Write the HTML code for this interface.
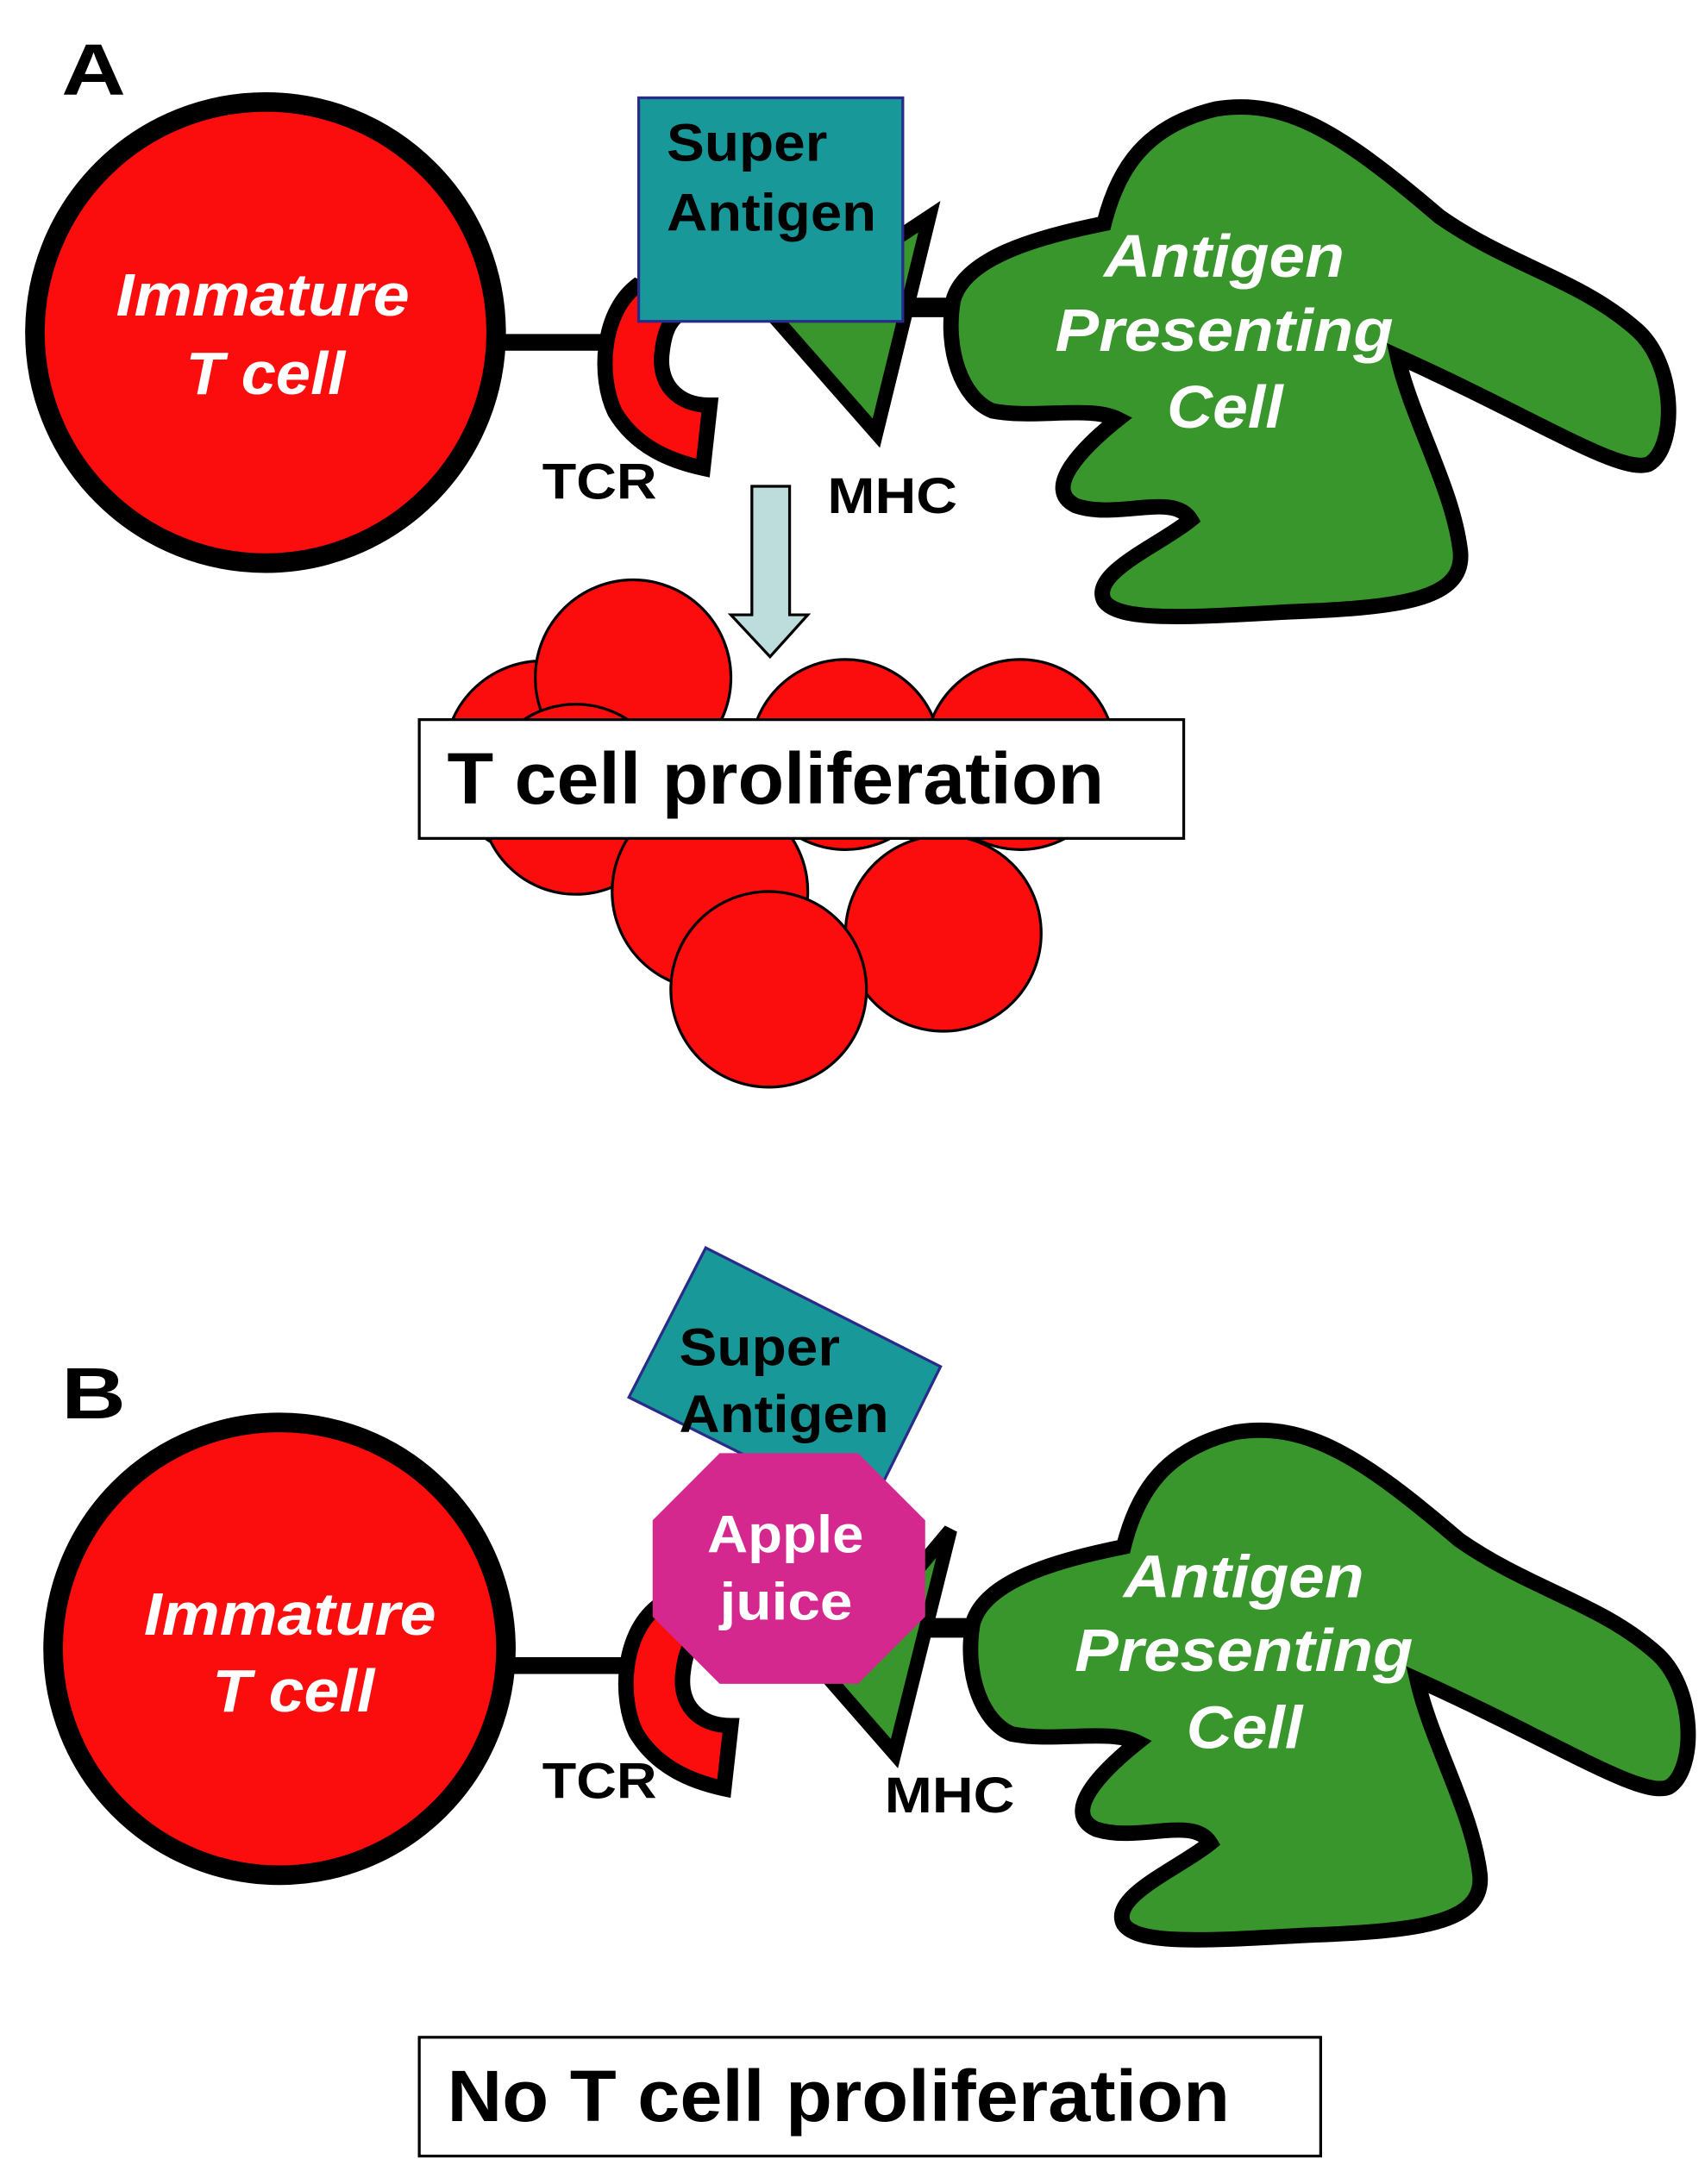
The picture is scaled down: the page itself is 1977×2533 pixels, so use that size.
<!DOCTYPE html>
<html><head><meta charset="utf-8"><style>
html,body{margin:0;padding:0;background:#fff;width:1977px;height:2533px;overflow:hidden}
svg{display:block}
text{font-family:"Liberation Sans",sans-serif;font-weight:bold}
.w{fill:#fff;font-style:italic;font-size:43px}
.lab{font-size:36px;fill:#000}
</style></head><body>
<svg width="1977" height="2533" viewBox="0 0 1220 1563" preserveAspectRatio="none">
<defs>
<path id="apc" d="M682,215 C690,185 740,170 790,160 C800,120 820,90 870,78 C920,70 960,95 1030,155 C1080,190 1130,200 1170,235 C1200,260 1200,320 1180,332 C1160,340 1100,300 1000,255 C1010,300 1040,350 1045,395 C1048,430 1000,435 920,438 C850,442 800,445 790,430 C780,410 830,390 852,372 C840,352 800,372 770,362 C745,350 775,320 800,300 C780,290 740,300 710,294 C688,285 676,250 682,215 Z"/>
<path id="tcr" d="M455,205 C430,225 428,270 440,295 C455,320 480,330 503,335 L508,290 C485,290 470,275 474,250 C476,235 480,228 490,222 Z"/>
</defs>
<!-- A -->
<text x="44" y="68" font-size="52" textLength="46" lengthAdjust="spacingAndGlyphs">A</text>
<circle cx="190" cy="238" r="165" fill="#fb0d0d" stroke="#000" stroke-width="14"/>
<text class="w" x="83" y="226" textLength="210" lengthAdjust="spacingAndGlyphs">Immature</text>
<text class="w" x="133" y="282" textLength="114" lengthAdjust="spacingAndGlyphs">T cell</text>
<line x1="360" y1="245" x2="445" y2="245" stroke="#000" stroke-width="12"/>
<use href="#tcr" fill="#fb0d0d" stroke="#000" stroke-width="11"/>
<polygon points="555,228 665,155 627,310" fill="#38962c" stroke="#000" stroke-width="10"/>
<line x1="645" y1="220" x2="705" y2="220" stroke="#000" stroke-width="14"/>
<use href="#apc" fill="#38962c" stroke="#000" stroke-width="11"/>
<rect x="457" y="70" width="189" height="160" fill="#189898" stroke="#2a2a8a" stroke-width="2"/>
<text x="477" y="115" font-size="38" textLength="115" lengthAdjust="spacingAndGlyphs">Super</text>
<text x="477" y="165" font-size="38" textLength="150" lengthAdjust="spacingAndGlyphs">Antigen</text>
<text class="w" x="790" y="198" textLength="172" lengthAdjust="spacingAndGlyphs">Antigen</text>
<text class="w" x="755" y="251" textLength="242" lengthAdjust="spacingAndGlyphs">Presenting</text>
<text class="w" x="835" y="306" textLength="83" lengthAdjust="spacingAndGlyphs">Cell</text>
<text class="lab" x="388" y="357" textLength="82" lengthAdjust="spacingAndGlyphs">TCR</text>
<text class="lab" x="592" y="367" textLength="93" lengthAdjust="spacingAndGlyphs">MHC</text>
<polygon points="538,348 565,348 565,440 578,440 551,470 523,440 538,440" fill="#bddcdc" stroke="#000" stroke-width="2"/>
<g fill="#fb0d0d" stroke="#000" stroke-width="2">
<circle cx="388" cy="543" r="70"/>
<circle cx="453" cy="485" r="70"/>
<circle cx="605" cy="540" r="68"/>
<circle cx="730" cy="540" r="68"/>
<circle cx="412" cy="572" r="68"/>
<circle cx="508" cy="638" r="70"/>
<circle cx="675" cy="668" r="70"/>
<circle cx="550" cy="708" r="70"/>
</g>
<rect x="300" y="515" width="547" height="85" fill="#fff" stroke="#000" stroke-width="2"/>
<text x="320" y="575" font-size="52" textLength="470" lengthAdjust="spacingAndGlyphs">T cell proliferation</text>
<!-- B -->
<text x="44" y="1015" font-size="52" textLength="46" lengthAdjust="spacingAndGlyphs">B</text>
<circle cx="200" cy="1180" r="162" fill="#fb0d0d" stroke="#000" stroke-width="14"/>
<text class="w" x="103" y="1170" textLength="209" lengthAdjust="spacingAndGlyphs">Immature</text>
<text class="w" x="152" y="1225" textLength="116" lengthAdjust="spacingAndGlyphs">T cell</text>
<line x1="362" y1="1192" x2="460" y2="1192" stroke="#000" stroke-width="12"/>
<use href="#tcr" transform="translate(15,945)" fill="#fb0d0d" stroke="#000" stroke-width="11"/>
<polygon points="592,1200 680,1095 640,1255" fill="#38962c" stroke="#000" stroke-width="10"/>
<line x1="660" y1="1165" x2="717" y2="1165" stroke="#000" stroke-width="14"/>
<use href="#apc" transform="translate(14,947)" fill="#38962c" stroke="#000" stroke-width="11"/>
<polygon points="505,893 673,978 620,1085 450,1000" fill="#189898" stroke="#2a2a8a" stroke-width="2"/>
<text x="486" y="977" font-size="38" textLength="115" lengthAdjust="spacingAndGlyphs">Super</text>
<text x="486" y="1025" font-size="38" textLength="150" lengthAdjust="spacingAndGlyphs">Antigen</text>
<polygon points="515,1040 614,1040 662,1088 662,1157 614,1205 515,1205 467,1157 467,1088" fill="#d4288e"/>
<text x="506" y="1111" font-size="38" fill="#fff" textLength="112" lengthAdjust="spacingAndGlyphs">Apple</text>
<text x="515" y="1159" font-size="38" fill="#fff" textLength="95" lengthAdjust="spacingAndGlyphs">juice</text>
<text class="w" x="804" y="1143" textLength="172" lengthAdjust="spacingAndGlyphs">Antigen</text>
<text class="w" x="769" y="1196" textLength="242" lengthAdjust="spacingAndGlyphs">Presenting</text>
<text class="w" x="849" y="1251" textLength="83" lengthAdjust="spacingAndGlyphs">Cell</text>
<text class="lab" x="388" y="1287" textLength="82" lengthAdjust="spacingAndGlyphs">TCR</text>
<text class="lab" x="633" y="1297" textLength="93" lengthAdjust="spacingAndGlyphs">MHC</text>
<rect x="300" y="1458" width="645" height="85" fill="#fff" stroke="#000" stroke-width="2"/>
<text x="320" y="1518" font-size="52" textLength="560" lengthAdjust="spacingAndGlyphs">No T cell proliferation</text>
</svg>
</body></html>
